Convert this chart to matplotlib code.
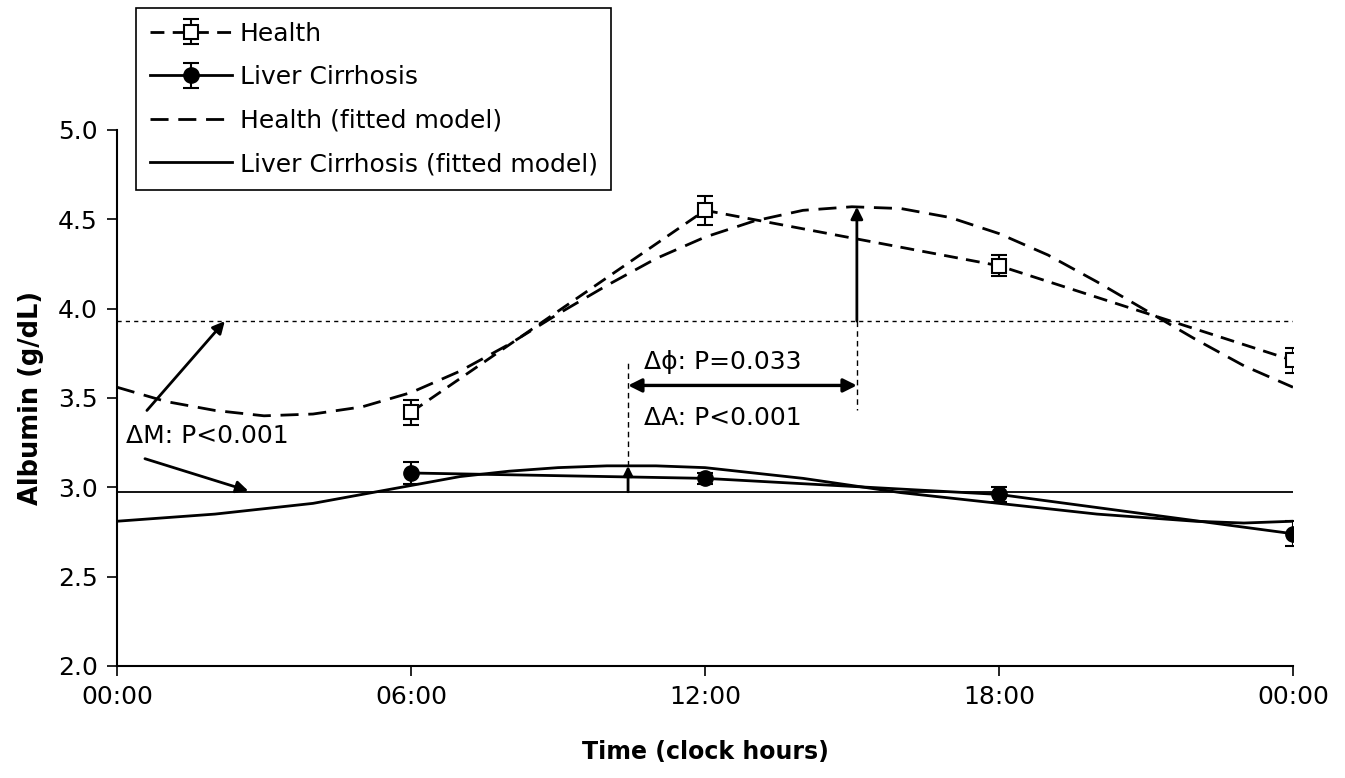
import matplotlib
matplotlib.use("Agg")
import matplotlib.pyplot as plt

plt.rcParams['font.family'] = ['DejaVu Sans']

# ---- data ----
time_points = [6, 12, 18, 24]
health_mean = [3.42, 4.55, 4.24, 3.71]
health_err = [0.07, 0.08, 0.06, 0.07]
lc_mean = [3.08, 3.05, 2.96, 2.74]
lc_err = [0.06, 0.03, 0.04, 0.07]

fit_hours = list(range(0, 25))
health_fit = [3.56, 3.48, 3.43, 3.40, 3.41, 3.45, 3.53, 3.65, 3.80, 3.97,
              4.13, 4.28, 4.40, 4.49, 4.55, 4.57, 4.56, 4.51, 4.42, 4.30,
              4.15, 3.99, 3.83, 3.68, 3.56]
lc_fit = [2.81, 2.83, 2.85, 2.88, 2.91, 2.96, 3.01, 3.06, 3.09, 3.11,
          3.12, 3.12, 3.11, 3.08, 3.05, 3.01, 2.97, 2.94, 2.91, 2.88,
          2.85, 2.83, 2.81, 2.80, 2.81]

health_mesor = 3.93
lc_mesor = 2.975
health_acrophase = 15.1
health_peak = 4.57
lc_acrophase = 10.43
lc_peak = 3.12

xtick_pos = [0, 6, 12, 18, 24]
xtick_labels = ["00:00", "06:00", "12:00", "18:00", "00:00"]
ytick_pos = [2.0, 2.5, 3.0, 3.5, 4.0, 4.5, 5.0]

# ---- figure ----
fig = plt.figure(figsize=(13.45, 7.78), dpi=100)
ax = fig.add_axes([0.087, 0.144, 0.8743, 0.689])

FS = 18

# mesor lines
ax.axhline(health_mesor, color='black', lw=1.0, ls=(0, (3, 3)), zorder=1)
ax.axhline(lc_mesor, color='black', lw=1.3, ls='-', zorder=1)

# fitted models
l_hfit, = ax.plot(fit_hours, health_fit, color='black', lw=2.0, ls=(0, (6.5, 3.5)),
                  label='Health (fitted model)', zorder=2)
l_lfit, = ax.plot(fit_hours, lc_fit, color='black', lw=2.0, ls='-',
                  label='Liver Cirrhosis (fitted model)', zorder=2)

# observed data
h_eb = ax.errorbar(time_points, health_mean, yerr=health_err, color='black', lw=2.0,
                   ls=(0, (5, 3)), marker='s', markersize=10, markerfacecolor='white',
                   markeredgecolor='black', markeredgewidth=1.5, capsize=6,
                   elinewidth=1.5, capthick=1.5, label='Health', zorder=3)
l_eb = ax.errorbar(time_points, lc_mean, yerr=lc_err, color='black', lw=2.0, ls='-',
                   marker='o', markersize=11, markerfacecolor='black',
                   markeredgecolor='black', capsize=6, elinewidth=1.5, capthick=1.5,
                   label='Liver Cirrhosis', zorder=3)

# acrophase / amplitude annotations
ax.annotate('', xy=(health_acrophase, health_peak), xytext=(health_acrophase, health_mesor),
            arrowprops=dict(arrowstyle='-|>', lw=2, color='black', mutation_scale=18,
                            shrinkA=0, shrinkB=0))
ax.annotate('', xy=(lc_acrophase, lc_peak), xytext=(lc_acrophase, lc_mesor),
            arrowprops=dict(arrowstyle='-|>', lw=2, color='black', mutation_scale=14,
                            shrinkA=0, shrinkB=0))
ax.plot([health_acrophase, health_acrophase], [health_mesor, 3.43], color='black',
        lw=1.0, ls=(0, (4, 3)))
ax.plot([lc_acrophase, lc_acrophase], [lc_peak, 3.70], color='black',
        lw=1.0, ls=(0, (4, 3)))
ax.annotate('', xy=(health_acrophase, 3.57), xytext=(lc_acrophase, 3.57),
            arrowprops=dict(arrowstyle='<|-|>', lw=2.4, color='black', mutation_scale=20,
                            shrinkA=0, shrinkB=0))
ax.text(10.75, 3.70, 'Δϕ: P=0.033', fontsize=FS, va='center', ha='left')
ax.text(10.75, 3.385, 'ΔA: P<0.001', fontsize=FS, va='center', ha='left')

# mesor difference annotations
ax.text(0.18, 3.285, 'ΔM: P<0.001', fontsize=FS, va='center', ha='left')
ax.annotate('', xy=(2.2, 3.93), xytext=(0.61, 3.43),
            arrowprops=dict(arrowstyle='-|>', lw=2, color='black', mutation_scale=18,
                            shrinkA=0, shrinkB=0))
ax.annotate('', xy=(2.68, 2.98), xytext=(0.57, 3.16),
            arrowprops=dict(arrowstyle='-|>', lw=2, color='black', mutation_scale=18,
                            shrinkA=0, shrinkB=0))

# axes styling
ax.set_xlim(0, 24)
ax.set_ylim(2.0, 5.0)
ax.set_xticks(xtick_pos)
ax.set_xticklabels(xtick_labels)
ax.set_yticks(ytick_pos)
ax.set_yticklabels([f"{v:.1f}" for v in ytick_pos])
ax.tick_params(axis='both', labelsize=FS, direction='out', length=7, width=1.2, pad=7)
for s in ['top', 'right']:
    ax.spines[s].set_visible(False)
for s in ['left', 'bottom']:
    ax.spines[s].set_linewidth(1.5)

ax.set_xlabel('Time (clock hours)', fontsize=17, fontweight='bold', labelpad=22)
ax.set_ylabel('Albumin (g/dL)', fontsize=18.5, fontweight='bold', labelpad=10)

# legend
leg = fig.legend(handles=[h_eb, l_eb, l_hfit, l_lfit],
                 labels=['Health', 'Liver Cirrhosis', 'Health (fitted model)',
                         'Liver Cirrhosis (fitted model)'],
                 loc='upper left', bbox_to_anchor=(0.101, 0.99),
                 bbox_transform=fig.transFigure, fontsize=FS, frameon=True,
                 fancybox=False, edgecolor='black', framealpha=1,
                 handlelength=3.3, handletextpad=0.3, labelspacing=0.78,
                 borderpad=0.55, borderaxespad=0)
leg.get_frame().set_linewidth(1.2)

fig.savefig('out.png', dpi=100)
